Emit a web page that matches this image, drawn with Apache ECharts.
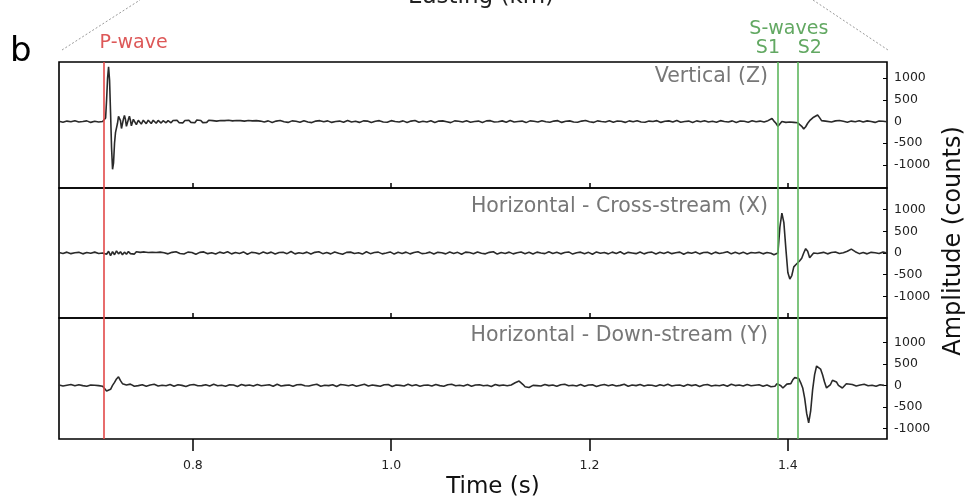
<!DOCTYPE html>
<html>
<head>
<meta charset="utf-8">
<script src="https://cdn.jsdelivr.net/npm/echarts@6.0.0/dist/echarts.min.js"></script>
<style>
  html, body { margin: 0; padding: 0; background: #fff; }
  #chart { width: 971px; height: 502px; }
</style>
</head>
<body>
<div id="chart"></div>
<script>
// ---- Picks (s) ----
const pWaveTime = 0.71;
const s1Time = 1.389;
const s2Time = 1.413;

// ---- Axis ticks ----
const timeTicks = [0.8, 1.0, 1.2, 1.4];
const ampTicks = [-1000, -500, 0, 500, 1000];
const timeRange = [0.665, 1.5];
const zRange = [-1530, 1370];
const xRange = [-1500, 1500];
const yRange = [-1245, 1565];

// ---- Vertical (Z) trace, counts; each block: [start time, sample step, values] ----
const zPre = [5, -15, 10, -5, 20, -10, 0, 15, -20, 5, -10, 0];
const zPArrival = [5, 0, 80, 500, 1000, 1260, 950, 200, -600, -1100,
  -950, -500, -250, -220, -40, 120, 150, 20, -160, -120,
  60, 140, 50, -110, -100, 50, 120, 30, -100, -80,
  50, 90, 20, -70, -60, 30, 70, 10, -60, -40,
  30, 60, 0, -50, -30, 30, 50, 0, -45, -20,
  30, 45, 0, -40, -20, 25, 40, 5, -35, -25,
  20, 35, 5, -30, -20, 20, 30, 0, -30, -15];
const zRinging = [25, -20, 30, -25, 15, -30, 25, -15, 30, -20, 20, -30, 35, -10, 25, -25, 15, -20, 30, -15,
  20, -25, 10, -20, 25, -10, 20, -25, 30, -15, 15, -20, 25, -10, 20, -15, 10, -20, 25, -15,
  15, -10, 20, -20, 10, -15];
const zQuiet = [-10, 15, -20, 10, 25, -5, -20, 15, 5, -15, 20, -10, -25, 10, 20, -5, 15, -20, 0, 10,
  -15, 25, -10, 5, -20, 15, 10, -25, 5, 20, -10, -15, 20, 0, -10, 15, -20, 10, 25, -15,
  5, -10, 20, -20, 10, 15, -5, -25, 15, 5, -10, 20, -15, 0, 10, -20, 15, 20, -10, -5,
  15, -15, 25, -10, 0, 10, -25, 15, 5, -10, 20, -5, -15, 10, 20, -20, 5, 15, -10, -15,
  10, 25, -5, -20, 15, 0, -10, 20, -15, 10, 5, -20, 15, -5, 20, -10, -15, 10, 0, 20,
  -20, 5, 15, -10, 25, -15, 0, 10, -20, 15, -5, 20, -10, 5, -15, 20, 0, -10, 15, -20,
  10, 5, -15, 20, -5, 10, -10];
const zSArrival = [10, 20, 60, 70, 10, -40, -110, -80, 0, 20,
  -20, 10, -10, 20, -20, 0, -30, -60, -110, -170,
  -120, -40, 20, 50, 100, 140, 150, 90, 20, -10,
  10, -20];
const zPost = [-10, 15, 25, 5, -15, 10, -5, 20, -10, 15, 0, -20, 10, 5, -5];

// ---- Horizontal cross-stream (X) trace ----
const xPre = [10, -10, 20, -15, 5, 15, -20, 10, -5, 20, -10, 0];
const xPArrival = [0, -30, 40, -60, 30, -40, 50, -20, 30, -40, 20, -30, 35, -15, 20, -25, 30, -10, 15, -20,
  25, -10, 10, -20, 15, -5, 10, -15, 20, -10, 5];
const xQuiet = [-20, 15, 30, -10, -25, 20, 10, -30, 15, 25, -15, 5, -25, 20, -5, 30, -20, 10, -10, 25,
  -30, 15, 5, -20, 25, -10, 20, -25, 10, 15, -15, 35, -20, 5, -10, 20, -25, 15, 30, -15,
  10, -20, 25, -5, -30, 15, 20, -10, 5, -25, 30, -15, 10, 20, -20, 0, 25, -25, 15, -10,
  20, -20, 10, 30, -15, -5, 20, -25, 15, 5, -20, 25, -10, 15, -30, 20, 10, -15, 25, -5,
  -20, 15, 30, -25, 10, -10, 20, -20, 5, 25, -15, 15, -25, 20, 0, -15, 30, -10, 15, -20,
  10, 25, -25, 5, 20, -15, 15, -30, 25, -5, 10, -20, 20, -10, 30, -25, 15, 0, -15, 25,
  -20, 10, 20, -25, 15, -10, 25, -15, 5, 20, -30, 15, -5, 25, -20, 10, 15, -25, 20, -10,
  5, 30, -20, 15, -15, 20, -25, 10, 0, 15, -20, 10, -5];
const xSArrival = [-20, -40, -60, 0, 600, 920, 700, 100, -450, -600,
  -520, -320, -270, -230, -180, -120, 0, 100, 40, -110,
  -80, 0, 20, -10, 10];
const xPost = [15, -20, 10, 25, -10, 5, 40, 90, 30, -15, 10, -20, 15, 5, -10, 20, 0];

// ---- Horizontal down-stream (Y) trace ----
const yPre = [10, -15, 5, 20, -10, 15, -5, -20, 10, 5, -5];
const yPArrival = [0, -20, -60, -130, -170, -90, 0, 70, 150, 200,
  110, 40, 60, 10, -20, 30, 0, -20, 15, -5];
const yQuietA = [15, -20, 10, 25, -15, 5, -10, 20, -20, 15, 0, -25, 10, 20, -10, -5, 15, -15, 25, -10,
  5, -20, 15, 10, -25, 20, -5, 10, -15, 20, -10, 5, 15, -20, 25, -15, 0, 10, -20, 15,
  20, -10, -15, 10, 25, -20, 5, -5, 15, -25, 20, 10, -10, 15, -20, 5, 25, -15, 10, -5,
  -20, 15, 20, -25, 10, 0, -15, 25, -10, 15, -20, 5, 10, -15, 20, -5, -20, 15, 25, -10,
  5, -15, 20, -20, 10, 15, -10, 5, -25, 20, -5, 10, -10];
const yBump = [0, 10, 30, 60, 90, 100, 70, 20, -30, -60, -50, -20, 0, 10, -5];
const yQuietB = [-15, 20, -5, 10, -20, 15, 25, -10, 5, -15, 20, -20, 10, 15, -25, 5, 20, -10, 15, -15,
  0, 25, -20, 10, -5, 20, -15, 10, 5, -20, 15, -10, 25, -15, 5, 10, -20, 20, -5, 15,
  -25, 10, 20, -15, 5, -10, 15, -20, 25, -5, 10, -15, 20, -10, 5, 15, -20, 10];
const ySArrival = [0, -30, -60, -20, 40, 50, -10, -60, -20, 30,
  0, 40, 130, 180, 205, 160, 60, -60, -300, -650,
  -870, -600, -100, 250, 450, 490, 380, 245, 80, -60,
  -40, 20, 120, 150, 80, 0, -40, -60, -20, 40,
  30];
const yPost = [20, -15, 10, 25, -10, 5, -20, 15, 0];

const zBlocks = [[0.665, 0.004, zPre], [0.710, 0.001, zPArrival], [0.780, 0.002, zRinging],
  [0.872, 0.004, zQuiet], [1.378, 0.002, zSArrival], [1.444, 0.004, zPost]];
const xBlocks = [[0.665, 0.004, xPre], [0.711, 0.002, xPArrival], [0.775, 0.004, xQuiet],
  [1.384, 0.002, xSArrival], [1.436, 0.004, xPost]];
const yBlocks = [[0.665, 0.004, yPre], [0.707, 0.002, yPArrival], [0.749, 0.004, yQuietA],
  [1.119, 0.002, yBump], [1.151, 0.004, yQuietB], [1.381, 0.002, ySArrival], [1.465, 0.004, yPost]];

function toPoints(blocks) {
  const pts = [];
  blocks.forEach(([t0, dt, vals]) => {
    vals.forEach((v, i) => pts.push([+(t0 + i * dt).toFixed(4), v]));
  });
  return pts;
}

const FONT = 'DejaVu Sans';
const RED = '#e24848';
const GREEN = '#5db65d';
const GREEN_TXT = '#62a862';

const grids = [
  { left: 59, right: 84, top: 62, height: 126 },
  { left: 59, right: 84, top: 188, height: 130 },
  { left: 59, right: 84, top: 318, height: 121 }
].map(g => Object.assign(g, { show: true, borderColor: '#000', borderWidth: 1.6, backgroundColor: 'transparent' }));

function makeX(i) {
  const last = i === 2;
  return {
    type: 'value', gridIndex: i, min: timeRange[0], max: timeRange[1],
    axisLine: { show: false, onZero: false },
    splitLine: { show: false },
    axisTick: {
      show: true, inside: !last, length: last ? 12 : 5,
      customValues: timeTicks,
      lineStyle: { color: '#000', width: 1.5 }
    },
    axisLabel: {
      show: last, customValues: timeTicks, margin: 20,
      fontFamily: FONT, fontSize: 12.5, color: '#222',
      formatter: v => v.toFixed(1)
    }
  };
}
function makeY(i, range) {
  return {
    type: 'value', gridIndex: i, position: 'right', min: range[0], max: range[1],
    axisLine: { show: false, onZero: false },
    splitLine: { show: false },
    axisTick: { show: true, inside: true, length: 4, customValues: ampTicks, lineStyle: { color: '#000', width: 1 } },
    axisLabel: {
      show: true, customValues: ampTicks, margin: 7, align: 'left',
      fontFamily: FONT, fontSize: 12.5, color: '#222',
      formatter: v => String(v)
    }
  };
}

function pickLines() {
  return {
    silent: true, symbol: 'none', animation: false,
    label: { show: false },
    data: [
      { xAxis: pWaveTime, lineStyle: { color: RED, width: 1.6, type: 'solid' } },
      { xAxis: s1Time, lineStyle: { color: GREEN, width: 1.6, type: 'solid' } },
      { xAxis: s2Time, lineStyle: { color: GREEN, width: 1.6, type: 'solid' } }
    ]
  };
}
function traceSeries(i, blocks) {
  return {
    type: 'line', xAxisIndex: i, yAxisIndex: i, data: toPoints(blocks),
    showSymbol: false, symbol: 'none', animation: false,
    lineStyle: { color: '#2a2a2a', width: 1.6 },
    markLine: pickLines()
  };
}

const chart = echarts.init(document.getElementById('chart'), null, { renderer: 'canvas' });
chart.setOption({
  animation: false,
  backgroundColor: '#fff',
  grid: grids,
  xAxis: [makeX(0), makeX(1), makeX(2)],
  yAxis: [makeY(0, zRange), makeY(1, xRange), makeY(2, yRange)],
  series: [traceSeries(0, zBlocks), traceSeries(1, xBlocks), traceSeries(2, yBlocks)]
});

// Annotation text placed against the pick positions on the time axis
const pX = chart.convertToPixel({ xAxisIndex: 0 }, pWaveTime);
const s1X = chart.convertToPixel({ xAxisIndex: 0 }, s1Time);
const s2X = chart.convertToPixel({ xAxisIndex: 0 }, s2Time);

function txt(x, y, text, size, color, align, extra) {
  return Object.assign({
    type: 'text', x: x, y: y,
    style: { text: text, font: size + 'px "' + FONT + '"', fill: color, align: align || 'center', verticalAlign: 'middle' }
  }, extra || {});
}

chart.setOption({
  graphic: [
    { type: 'line', shape: { x1: 62, y1: 50, x2: 140, y2: 0 }, style: { stroke: '#9a9a9a', lineWidth: 1, lineDash: [2, 2] } },
    { type: 'line', shape: { x1: 813, y1: 0, x2: 888, y2: 50 }, style: { stroke: '#9a9a9a', lineWidth: 1, lineDash: [2, 2] } },
    txt(481, -3, 'Easting (km)', 23, '#222'),
    txt(10, 52, 'b', 34, '#000', 'left'),
    txt(pX - 4, 43, 'P-wave', 19, '#dd5858', 'left'),
    txt((s1X + s2X) / 2, 29, 'S-waves', 19, GREEN_TXT),
    txt(s1X - 9, 48, 'S1', 19, GREEN_TXT),
    txt(s2X + 9, 48, 'S2', 19, GREEN_TXT),
    txt(768, 77, 'Vertical (Z)', 20.5, '#777', 'right'),
    txt(768, 207, 'Horizontal - Cross-stream (X)', 20.5, '#777', 'right'),
    txt(768, 336, 'Horizontal - Down-stream (Y)', 20.5, '#777', 'right'),
    txt(493, 487, 'Time (s)', 23, '#111'),
    txt(954, 241, 'Amplitude (counts)', 24, '#111', 'center', { rotation: Math.PI / 2 })
  ]
});
</script>
</body>
</html>
